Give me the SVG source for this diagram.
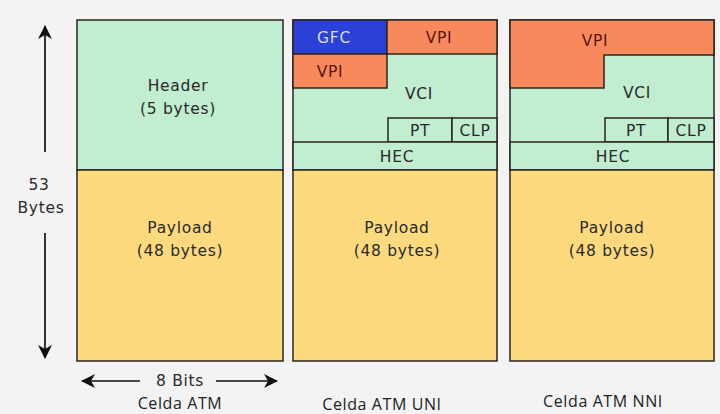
<svg xmlns="http://www.w3.org/2000/svg" width="720" height="414" viewBox="0 0 720 414">
<defs>
<style>
.bg{fill:#f3f3f3}
.box{stroke:#2a2420;stroke-width:1.5}
.g{fill:#c1edd1}
.y{fill:#fdda7e}
.o{fill:#f8895c}
.b{fill:#2b40d6}
.t{font-family:"DejaVu Sans",sans-serif;font-size:15.5px;fill:#2a2a2a;text-anchor:middle;letter-spacing:0.7px}
.tr{fill:#5a1410}
.tw{fill:#d8dcf4}
.cap{font-family:"Open Sans",sans-serif;font-size:16px;fill:#222;text-anchor:middle;letter-spacing:0.6px}
.ln{fill:none;stroke:#111;stroke-width:1.7}
</style>
<marker id="ah" viewBox="0 0 14 14" refX="13" refY="7" markerWidth="14" markerHeight="14" markerUnits="userSpaceOnUse" orient="auto">
<path d="M0,0 L14,7 L0,14 L4,7 Z" fill="#111"/>
</marker>
</defs>
<rect class="bg" x="0" y="0" width="720" height="414"/>
<g id="cell-atm">
<rect class="box g" x="77" y="20" width="206" height="150"/>
<rect class="box y" x="77" y="170" width="206" height="191"/>
<text class="t" x="178" y="91">Header</text>
<text class="t" x="178" y="114">(5 bytes)</text>
<text class="t" x="180" y="233">Payload</text>
<text class="t" x="180" y="256">(48 bytes)</text>
<text class="t" x="39" y="190">53</text>
<text class="t" x="41" y="213">Bytes</text>
<text class="t" x="180" y="386">8 Bits</text>
<text class="cap" x="180" y="409">Celda ATM</text>
</g>
<g id="cell-uni">
<rect class="box g" x="293" y="20" width="204" height="150"/>
<rect class="box b" x="293" y="20" width="94" height="34"/>
<rect class="box o" x="387" y="20" width="110" height="34"/>
<rect class="box o" x="293" y="54" width="94" height="34"/>
<rect class="box g" x="388" y="118" width="64" height="24"/>
<rect class="box g" x="452" y="118" width="45" height="24"/>
<rect class="box g" x="293" y="142" width="204" height="28"/>
<rect class="box y" x="293" y="170" width="204" height="191"/>
<text class="t tw" x="334" y="43">GFC</text>
<text class="t tr" x="439" y="43">VPI</text>
<text class="t tr" x="330" y="77">VPI</text>
<text class="t" x="419" y="99">VCI</text>
<text class="t" x="420" y="136">PT</text>
<text class="t" x="475" y="136">CLP</text>
<text class="t" x="397" y="162">HEC</text>
<text class="t" x="397" y="233">Payload</text>
<text class="t" x="397" y="256">(48 bytes)</text>
<text class="cap" x="382" y="410">Celda ATM UNI</text>
</g>
<g id="cell-nni">
<rect class="box g" x="510" y="20" width="204" height="150"/>
<path class="box o" d="M510,20 H714 V55 H604 V88 H510 Z"/>
<rect class="box g" x="605" y="118" width="63" height="24"/>
<rect class="box g" x="668" y="118" width="46" height="24"/>
<rect class="box g" x="510" y="142" width="204" height="28"/>
<rect class="box y" x="510" y="170" width="204" height="191"/>
<text class="t tr" x="595" y="46">VPI</text>
<text class="t" x="637" y="98">VCI</text>
<text class="t" x="636" y="136">PT</text>
<text class="t" x="691" y="136">CLP</text>
<text class="t" x="613" y="162">HEC</text>
<text class="t" x="612" y="233">Payload</text>
<text class="t" x="612" y="256">(48 bytes)</text>
<text class="cap" x="603" y="407">Celda ATM NNI</text>
</g>
<g id="connectors">
<line class="ln" x1="45" y1="152" x2="45" y2="26" marker-end="url(#ah)"/>
<line class="ln" x1="45" y1="233" x2="45" y2="358" marker-end="url(#ah)"/>
<line class="ln" x1="140" y1="381" x2="82" y2="381" marker-end="url(#ah)"/>
<line class="ln" x1="216" y1="381" x2="277" y2="381" marker-end="url(#ah)"/>
</g>
</svg>
